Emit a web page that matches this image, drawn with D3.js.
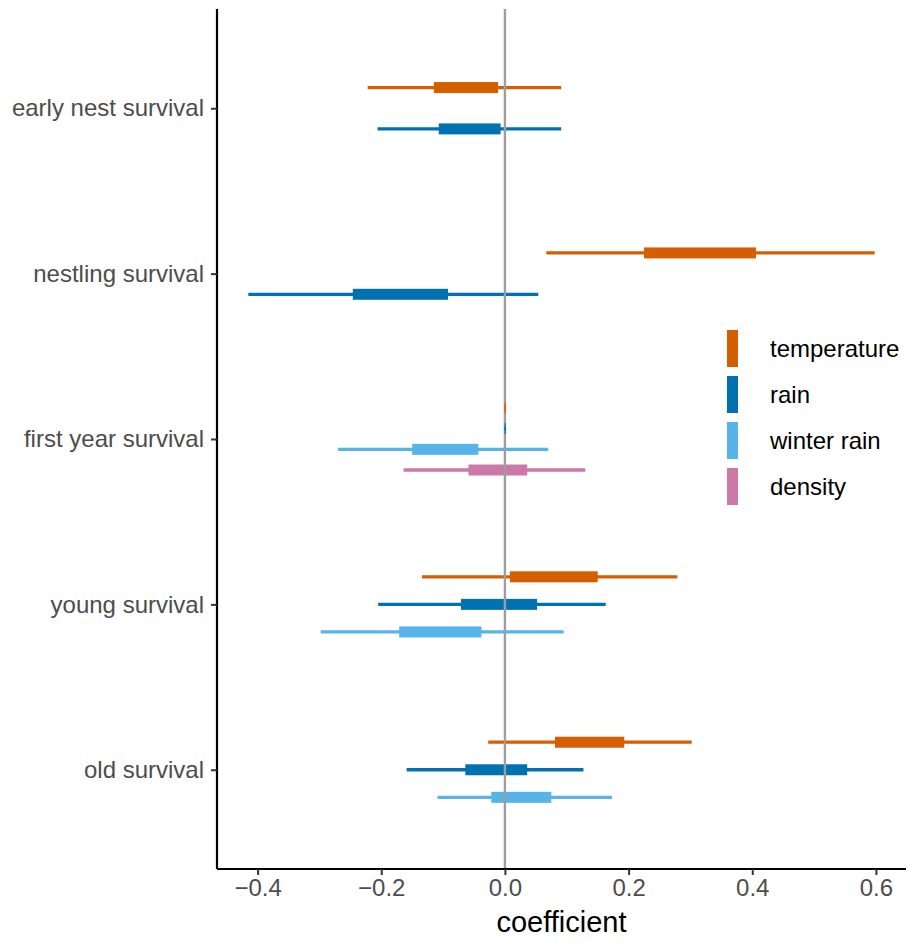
<!DOCTYPE html>
<html>
<head>
<meta charset="utf-8">
<script src="https://cdn.jsdelivr.net/npm/d3@7"></script>
<style>
  body { margin: 0; background: #fff; }
  text { font-family: "Liberation Sans", Arial, sans-serif; }
</style>
</head>
<body>
<svg></svg>
<script>
const size = {w: 908, h: 943};
const plot = {l: 217, r: 906, t: 9, b: 869};

// categories top to bottom
const categories = ['early nest survival', 'nestling survival', 'first year survival', 'young survival', 'old survival'];
const seriesNames = ['temperature', 'rain', 'winter rain', 'density'];
const seriesColors = ['#D55E00', '#0072B2', '#56B4E9', '#CC79A7'];
const xTicks = [-0.4, -0.2, 0.0, 0.2, 0.4, 0.6];

// [lower 95, lower 50, upper 50, upper 95] for each category, null = not estimated
const temperature = [
    [-0.222, -0.115, -0.011, 0.091],
    [0.067, 0.225, 0.406, 0.598],
    [-0.001, -0.0005, 0.0015, 0.001],
    [-0.134, 0.008, 0.150, 0.279],
    [-0.027, 0.081, 0.193, 0.302]
];
const rain = [
    [-0.206, -0.107, -0.007, 0.091],
    [-0.415, -0.246, -0.092, 0.054],
    [-0.001, -0.0005, 0.0015, 0.001],
    [-0.205, -0.071, 0.052, 0.163],
    [-0.159, -0.064, 0.036, 0.127]
];
const winterRain = [
    null,
    null,
    [-0.270, -0.150, -0.043, 0.070],
    [-0.298, -0.171, -0.038, 0.095],
    [-0.109, -0.022, 0.075, 0.173]
];
const density = [
    null,
    null,
    [-0.164, -0.059, 0.036, 0.130],
    null,
    null
];

const svg = d3.select('svg')
    .attr('width', size.w)
    .attr('height', size.h);

const seriesValues = [temperature, rain, winterRain, density];

// flatten into rows, keeping dodge index within each category
let rows = [];
categories.forEach((cat, ci) => {
    let present = seriesNames.filter((s, si) => seriesValues[si][ci] !== null);
    present.forEach((s, k) => {
        let v = seriesValues[seriesNames.indexOf(s)][ci];
        rows.push({cat: cat, series: s, k: k, n: present.length,
            lo: v[0], q1: v[1], q3: v[2], hi: v[3]});
    });
});

// x scale with ggplot-like 5% expansion
let ext = [d3.min(rows, d => d.lo), d3.max(rows, d => d.hi)];
let pad = (ext[1] - ext[0]) * 0.05;
const x = d3.scaleLinear()
    .domain([ext[0] - pad, ext[1] + pad])
    .range([plot.l, plot.r]);

const y = d3.scalePoint()
    .domain(categories)
    .range([plot.t, plot.b])
    .padding(0.6);

const color = d3.scaleOrdinal().domain(seriesNames).range(seriesColors);

const dodgeWidth = y.step() * 0.5;
function dodgeY(d) {
    let band = d3.scaleBand()
        .domain(d3.range(d.n))
        .range([-dodgeWidth / 2, dodgeWidth / 2]);
    return y(d.cat) + band(d.k) + band.bandwidth() / 2;
}

// marks
const marksG = svg.append('g').classed('marks', true);
const mark = marksG.selectAll('g')
    .data(rows)
    .join('g')
    .attr('transform', d => 'translate(0,' + dodgeY(d) + ')');

mark.append('line')
    .attr('x1', d => x(d.lo))
    .attr('x2', d => x(d.hi))
    .attr('stroke', d => color(d.series))
    .attr('stroke-width', 3.3);

mark.append('rect')
    .attr('x', d => x(d.q1))
    .attr('width', d => x(d.q3) - x(d.q1))
    .attr('y', -5.5)
    .attr('height', 11)
    .attr('fill', d => color(d.series));

// zero line, above the wide boxes
marksG.append('line')
    .attr('x1', x(0)).attr('x2', x(0))
    .attr('y1', plot.t).attr('y2', plot.b)
    .attr('stroke', '#9E9E9E')
    .attr('stroke-width', 2.4);

// keep tiny estimates visible above the zero line
mark.filter(d => x(d.q3) - x(d.q1) < 3).raise();

// axes
const xAxis = svg.append('g')
    .attr('transform', 'translate(0,' + plot.b + ')')
    .call(d3.axisBottom(x).tickValues(xTicks).tickFormat(d => d3.format('.1f')(d).replace('-', '\u2212')).tickSizeOuter(0).tickSize(6).tickPadding(4));

const yAxis = svg.append('g')
    .attr('transform', 'translate(' + plot.l + ',0)')
    .call(d3.axisLeft(y).tickSizeOuter(0).tickSize(6).tickPadding(7));

[xAxis, yAxis].forEach(a => {
    a.select('.domain').attr('stroke', '#000').attr('stroke-width', 2.2);
    a.selectAll('.tick line').attr('stroke', '#333').attr('stroke-width', 2);
    a.selectAll('.tick text')
        .attr('fill', '#4D4D4D')
        .attr('font-size', 24)
        .attr('font-family', '"Liberation Sans", Arial, sans-serif');
});
xAxis.select('.domain').attr('d', 'M' + plot.l + ',0H' + plot.r);
yAxis.select('.domain').attr('d', 'M0,' + plot.t + 'V' + plot.b);

svg.append('text')
    .attr('x', (plot.l + plot.r) / 2)
    .attr('y', 932)
    .attr('text-anchor', 'middle')
    .attr('font-size', 29)
    .attr('fill', '#000')
    .text('coefficient');

// legend
const legendG = svg.append('g').classed('legend', true)
    .attr('transform', 'translate(727,330)');
const item = legendG.selectAll('g')
    .data(seriesNames)
    .join('g')
    .attr('transform', (d, i) => 'translate(0,' + i * 46 + ')');
item.append('rect')
    .attr('width', 11)
    .attr('height', 37)
    .attr('fill', d => color(d));
item.append('text')
    .attr('x', 43)
    .attr('y', 18.5)
    .attr('dy', '0.35em')
    .attr('font-size', 24)
    .attr('fill', '#000')
    .text(d => d);
</script>
</body>
</html>
